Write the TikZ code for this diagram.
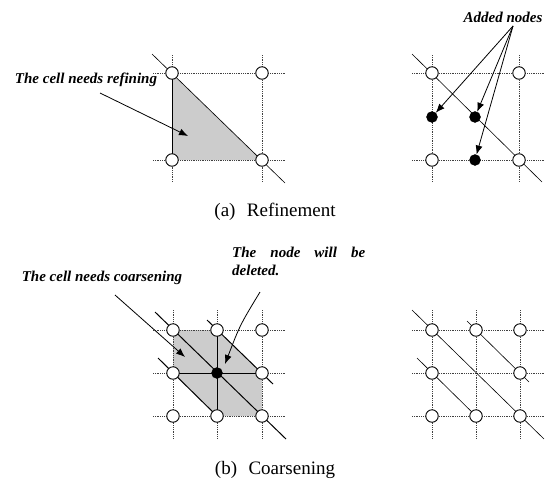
\documentclass[tikz,border=0pt]{standalone}
\usepackage{fontspec}
\setmainfont{Liberation Serif}
\usetikzlibrary{arrows.meta}
\begin{document}
\begin{tikzpicture}[x=1pt,y=-1pt,
  grid/.style={densely dotted,line width=0.8pt,black!75},
  diag/.style={line width=0.6pt,black},
  bold/.style={line width=1pt,black},
  opn/.style={circle,draw,line width=0.9pt,fill=white,inner sep=0pt,minimum size=12.5pt},
  cls/.style={circle,draw,fill=black,inner sep=0pt,minimum size=11pt},
  lab/.style={font=\fontsize{15}{16}\selectfont\bfseries\itshape,inner sep=0pt},
  capstyle/.style={font=\fontsize{19}{20}\selectfont,inner sep=0pt},
  arr/.style={line width=0.8pt,-{Latex[length=9pt,width=7pt]}},
  shade/.style={fill=black!20}]
\useasboundingbox (0,0) rectangle (548,482);

% ---------- (a) left panel ----------
\coordinate (A1) at (172,73); \coordinate (A2) at (262,73);
\coordinate (A3) at (172,160); \coordinate (A4) at (262,160);
\fill[shade] (A1) -- (A3) -- (A4) -- cycle;
\draw[grid] (153,73) -- (285,73);
\draw[grid] (153,160) -- (285,160);
\draw[grid] (172,55) -- (172,182);
\draw[grid] (262,55) -- (262,182);
\draw[diag] (A1) -- (A3);
\draw[diag] (152,54) -- (285,183);
\node[opn] (a1) at (A1) {}; \node[opn] (a2) at (A2) {};
\node[opn] (a3) at (A3) {}; \node[opn] (a4) at (A4) {};
\node[lab] (t1) at (86,80) {The cell needs refining};
\coordinate (t1s) at (100,93);
\coordinate (t1e) at (188,136);
\draw[arr] (t1s) -- (t1e);

% ---------- (a) right panel ----------
\draw[grid] (412,73) -- (545,73);
\draw[grid] (412,160) -- (545,160);
\draw[grid] (432,55) -- (432,182);
\draw[grid] (519,55) -- (519,182);
\draw[diag] (412,54) -- (542,182);
\node[opn] (b1) at (432,73) {}; \node[opn] (b2) at (519,73) {};
\node[opn] (b3) at (432,160) {}; \node[opn] (b4) at (519,160) {};
\node[cls] (c1) at (432,117) {}; \node[cls] (c2) at (475,117) {};
\node[cls] (c3) at (475,160) {};
\node[lab] (t2) at (503,17) {Added nodes};
\coordinate (t2s) at (513,26);
\draw[arr] (t2s) -- (c1);
\draw[arr] (t2s) -- (c2);
\draw[arr] (t2s) -- (c3);

\node[capstyle] (capa) at (275,212) {(a)\hspace{0.6em}Refinement};

% ---------- (b) left panel ----------
\fill[shade] (173,330) -- (217,330) -- (262,373) -- (262,416) -- (217,416) -- (173,373) -- cycle;
\foreach \y in {330,373,416} \draw[grid] (153,\y) -- (285,\y);
\foreach \x in {173,217,262} \draw[grid] (\x,310) -- (\x,438);
\draw[bold] (173,373) -- (262,373);
\draw[bold] (217,330) -- (217,416);
\draw[bold] (155,312) -- (286,439);
\draw[bold] (207,320) -- (273,384);
\draw[bold] (158,358) -- (220,419);
\node[opn] (d11) at (173,330) {}; \node[opn] (d12) at (217,330) {}; \node[opn] (d13) at (262,330) {};
\node[opn] (d21) at (173,373) {}; \node[cls] (d22) at (217,373) {}; \node[opn] (d23) at (262,373) {};
\node[opn] (d31) at (173,416) {}; \node[opn] (d32) at (217,416) {}; \node[opn] (d33) at (262,416) {};
\node[lab] (t3) at (102,278) {The cell needs coarsening};
\node[lab,anchor=west] (t4) at (232,252) {\makebox[133pt][s]{The node will be}};
\node[lab,anchor=west] (t5) at (232,270) {deleted.};
\coordinate (t3s) at (115,295);
\coordinate (t3e) at (185,357);
\draw[arr] (t3s) -- (t3e);
\coordinate (t5s) at (260,292);
\coordinate (t5e) at (225,364);
\draw[arr] (t5s) .. controls (240,325) .. (t5e);

% ---------- (b) right panel ----------
\foreach \y in {330,373,416} \draw[grid] (412,\y) -- (545,\y);
\foreach \x in {432,476,520} \draw[grid] (\x,310) -- (\x,438);
\draw[diag] (412,310) -- (544,439);
\draw[diag] (467,321) -- (529,382);
\draw[diag] (417,358) -- (479,419);
\node[opn] (e11) at (432,330) {}; \node[opn] (e12) at (476,330) {}; \node[opn] (e13) at (520,330) {};
\node[opn] (e21) at (432,373) {}; \node[opn] (e23) at (520,373) {};
\node[opn] (e31) at (432,416) {}; \node[opn] (e32) at (476,416) {}; \node[opn] (e33) at (520,416) {};

\node[capstyle] (capb) at (275,470) {(b)\hspace{0.6em}Coarsening};
\end{tikzpicture}
\end{document}
